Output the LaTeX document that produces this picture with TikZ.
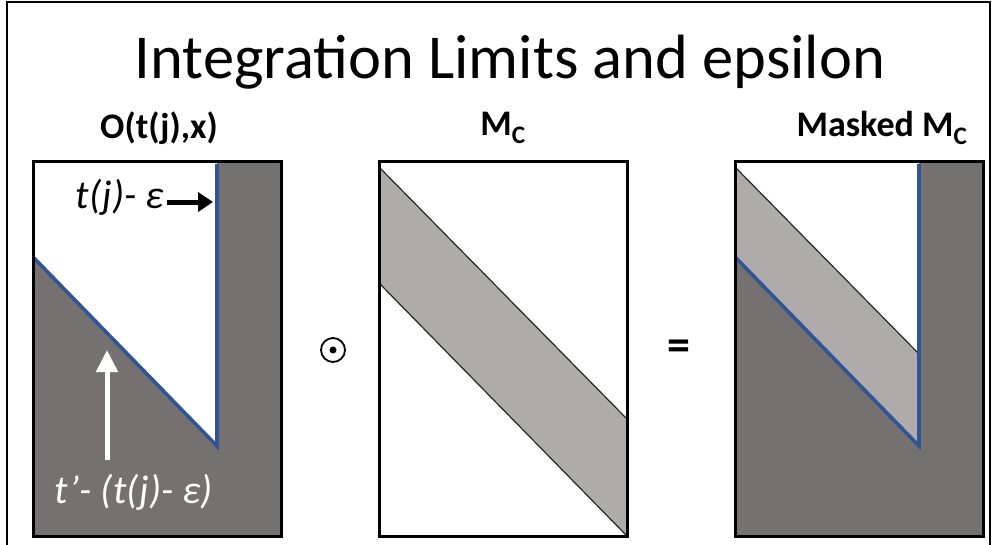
\documentclass[tikz,border=0pt]{standalone}
\usepackage{fontspec}
\setmainfont{Carlito}
\usetikzlibrary{arrows.meta}
\definecolor{darkg}{HTML}{757171}
\definecolor{lightg}{HTML}{AFABAB}
\definecolor{blueln}{HTML}{2F5597}
\tikzset{
  panelborder/.style={draw=black, line width=3pt},
  blueedge/.style={draw=blueln, line width=3.6pt},
  bandedge/.style={draw=black!85, line width=1.2pt},
  headlabel/.style={font=\fontsize{36}{42}\selectfont\bfseries, inner sep=0pt},
  itlabel/.style={font=\fontsize{40}{46}\selectfont\itshape, inner sep=0pt},
  opsym/.style={font=\fontsize{46}{52}\selectfont\bfseries, inner sep=0pt}
}
\begin{document}
\begin{tikzpicture}[x=1pt, y=-1pt]
\useasboundingbox (0,0) rectangle (992,544);
\clip (0,0) rectangle (992,544);
\fill[white] (0,0) rectangle (992,544);
% outer frame
\draw[black, line width=2pt] (7,2) rectangle (990,600);

% title
\node[font=\fontsize{62.5}{72}\selectfont, inner sep=0pt] (title) at (510,62) {Integration Limits and epsilon};

% ---------- panel 1 ----------
\fill[white] (33,161) rectangle (281,536);
\fill[darkg] (33,258) -- (217,446) -- (217,161) -- (281,161) -- (281,536) -- (33,536) -- cycle;
\draw[blueedge] (34,258) -- (217,446) -- (217,164);
\draw[panelborder] (33,161) rectangle (281,536);
\node[headlabel] (h1) at (159,128) {O(t(j),x)};
\node[itlabel, anchor=east] (eps) at (164,197) {t(j)- ε};
\coordinate (epsend) at (213,202);
\draw[black, line width=5pt, -{Triangle[length=15pt,width=19pt]}] (eps.east) ++(3,5) -- (epsend);
\coordinate (wa1) at (107,460);
\coordinate (wa2) at (107,350);
\draw[white, line width=5pt, -{Triangle[length=22pt,width=21pt]}] (wa1) -- (wa2);
\node[itlabel, text=white] (tp) at (134,492) {t’- (t(j)- ε)};

% ---------- operator ----------
\node[draw=black, circle, line width=1.8pt, minimum size=24pt, inner sep=0pt] (odot) at (333,350) {};
\fill[black] (odot.center) circle (3.5pt);

% ---------- panel 2 ----------
\fill[white] (379,161) rectangle (627,536);
\fill[lightg] (379,167) -- (627,419) -- (627,536) -- (379,283) -- cycle;
\draw[bandedge] (379,167) -- (627,419);
\draw[bandedge] (379,283) -- (627,536);
\draw[panelborder] (379,161) rectangle (627,536);
\node[headlabel] (h2) at (503,128) {M\textsubscript{C}};

% ---------- equals ----------
\node[opsym] (eq) at (679,350) {=};

% ---------- panel 3 ----------
\fill[white] (735,161) rectangle (983,536);
\fill[darkg] (735,258) -- (919,446) -- (919,161) -- (983,161) -- (983,536) -- (735,536) -- cycle;
\fill[lightg] (735,167) -- (919,354) -- (919,446) -- (735,258) -- cycle;
\draw[bandedge] (735,167) -- (919,354);
\draw[blueedge] (736,258) -- (919,446) -- (919,164);
\draw[panelborder] (735,161) rectangle (983,536);
\node[headlabel] (h3) at (882,128) {Masked M\textsubscript{C}};
\end{tikzpicture}
\end{document}
